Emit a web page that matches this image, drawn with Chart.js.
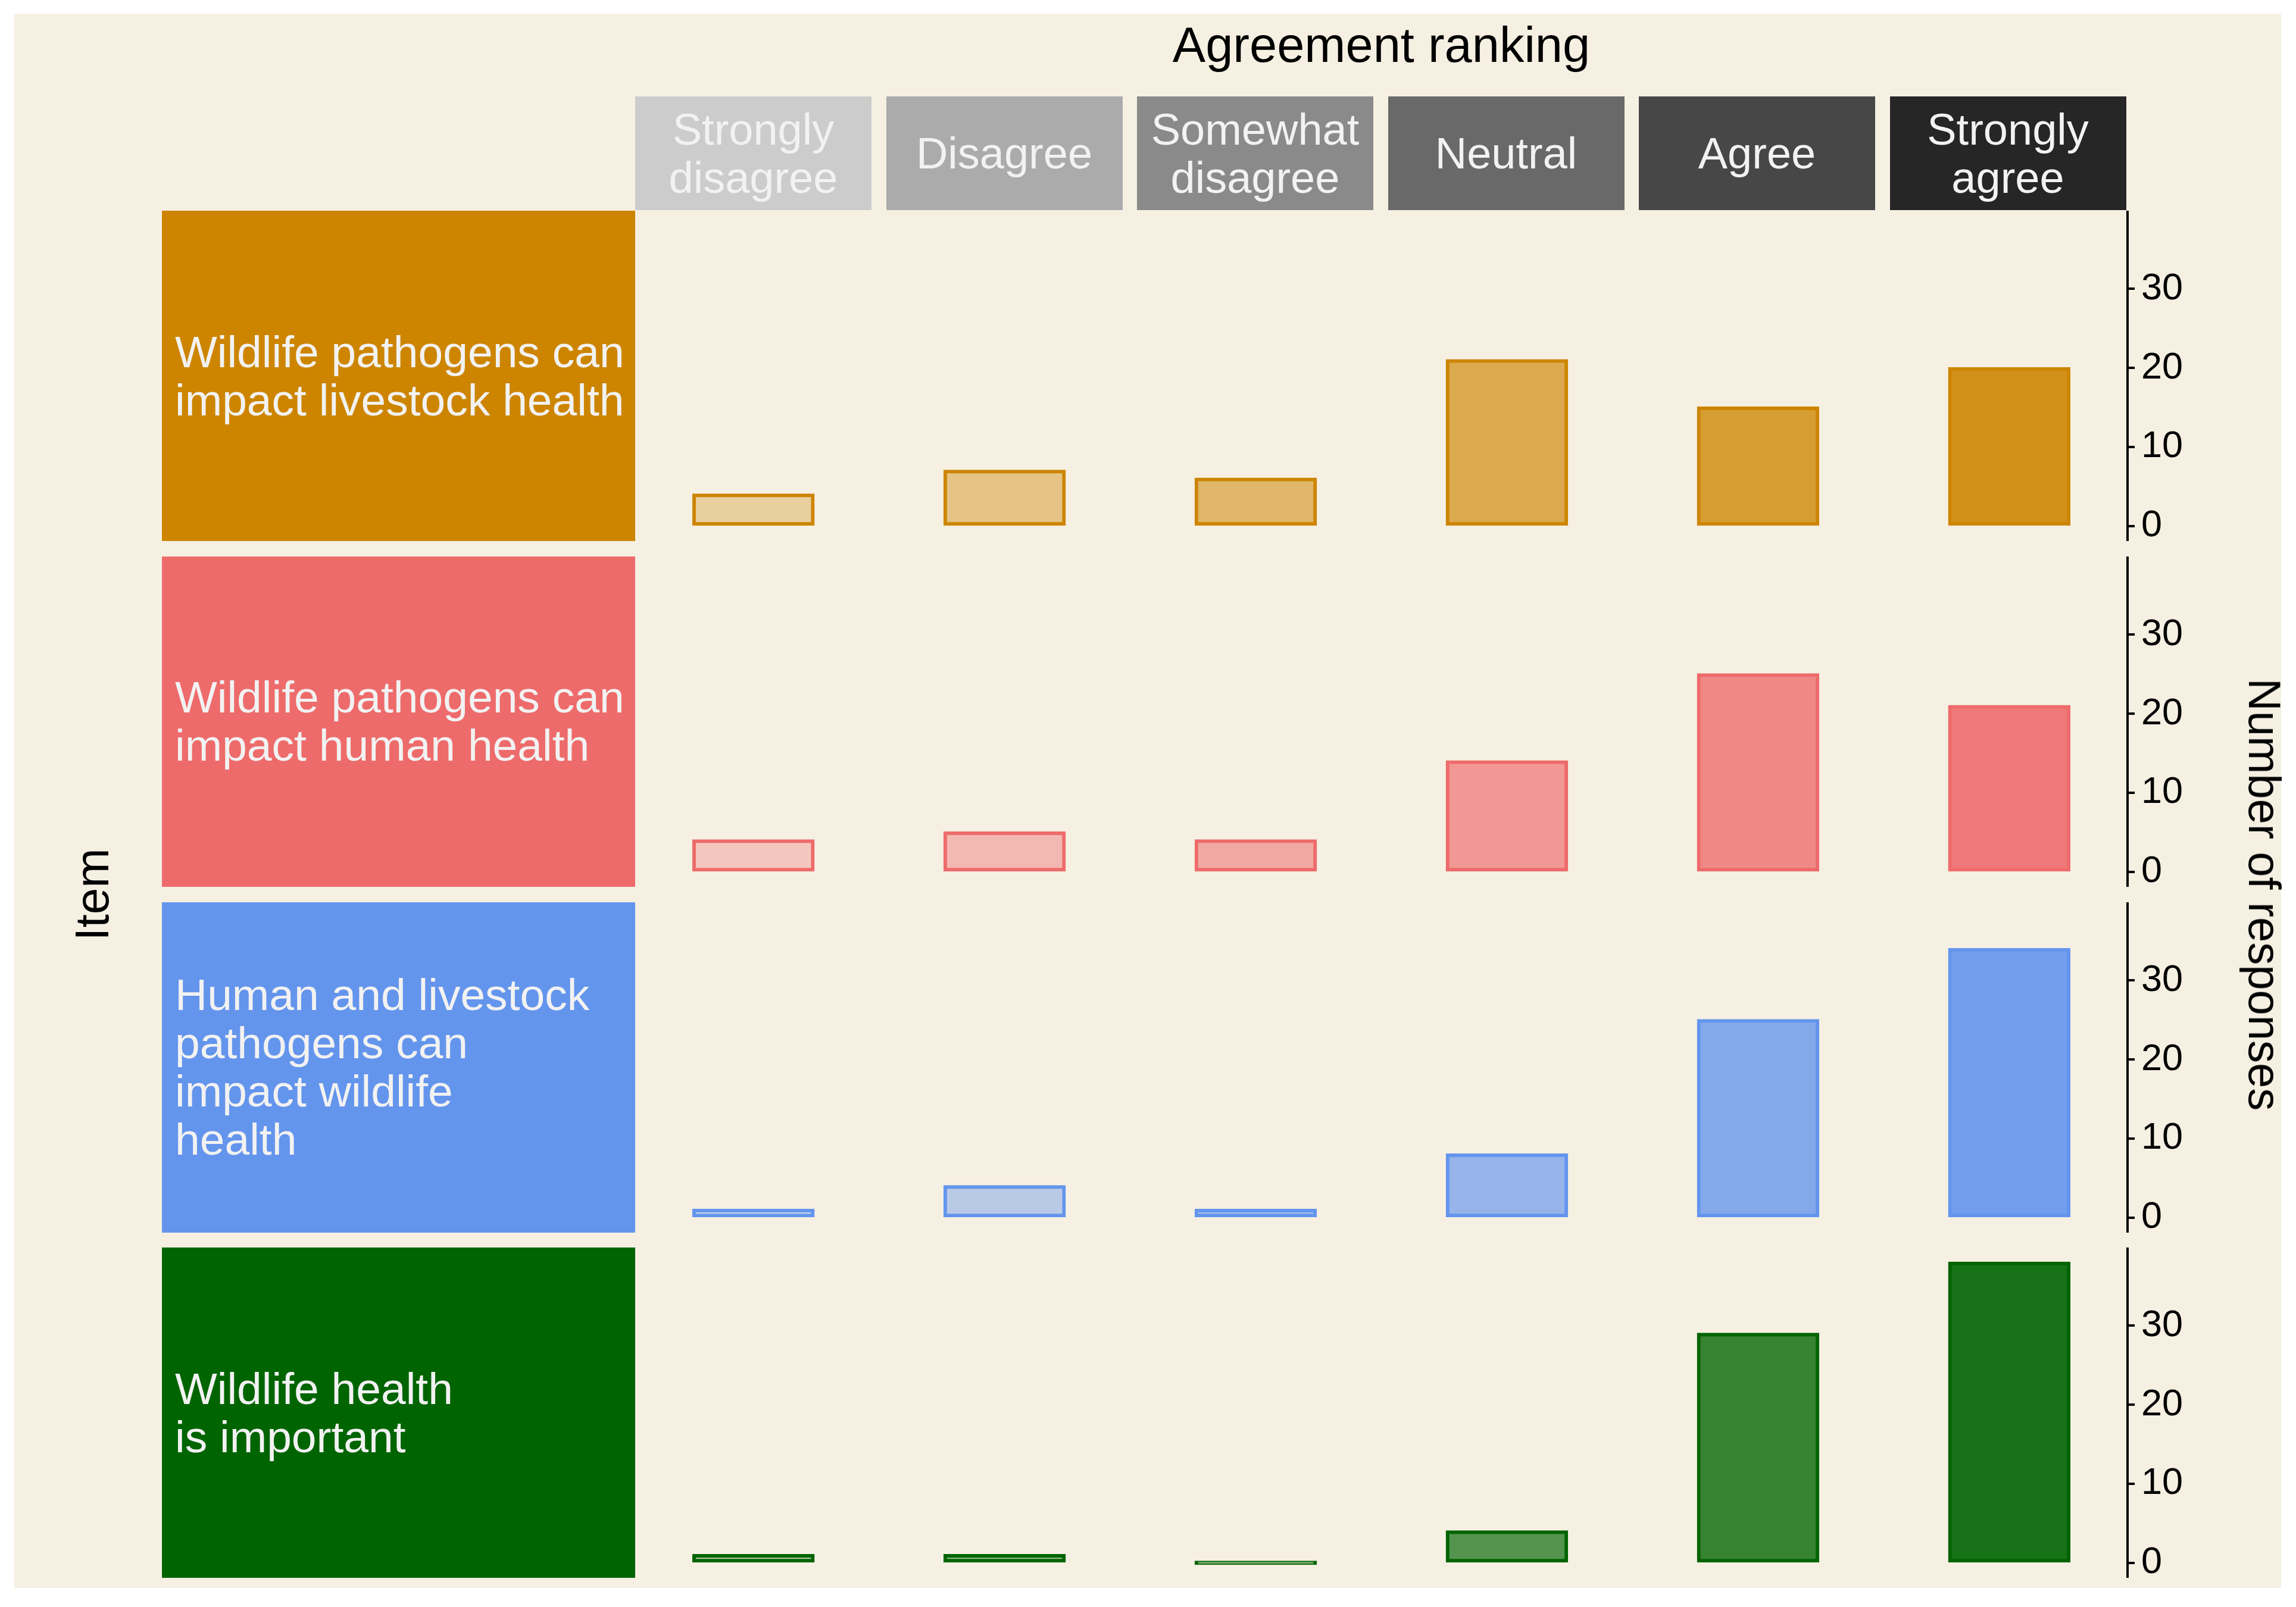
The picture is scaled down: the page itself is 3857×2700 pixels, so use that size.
<!DOCTYPE html>
<html>
<head>
<meta charset="utf-8">
<script src="https://cdn.jsdelivr.net/npm/chart.js@4/dist/chart.umd.min.js"></script>
<style>
  html, body { margin: 0; padding: 0; background: #ffffff; }
  body { width: 3857px; height: 2700px; position: relative; overflow: hidden; font-family: "Liberation Sans", Arial, sans-serif; }
  #bg { position: absolute; left: 24px; top: 23px; width: 3808px; height: 2645px; background: #F6F0E3; }
  .hstrip { position: absolute; display: flex; align-items: center; justify-content: center; text-align: center;
            white-space: pre-line; font-size: 74px; line-height: 81px; color: #F2F2F2; }
  .rstrip { position: absolute; display: flex; align-items: center; justify-content: flex-start; text-align: left;
            white-space: pre-line; font-size: 75px; line-height: 81px; color: #F2F2F2; box-sizing: border-box; padding-left: 22px; }
  .title { position: absolute; font-size: 83px; line-height: 83px; color: #000; white-space: nowrap; }
  canvas { position: absolute; }
</style>
</head>
<body>
<div id="bg"></div>
<div id="root"></div>
<script>
// ---------------- data ----------------
const agreementLevels = ['Strongly\ndisagree', 'Disagree', 'Somewhat\ndisagree', 'Neutral', 'Agree', 'Strongly\nagree'];
const itemLabels = [
  'Wildlife pathogens can\nimpact livestock health',
  'Wildlife pathogens can\nimpact human health',
  'Human and livestock\npathogens can\nimpact wildlife\nhealth',
  'Wildlife health\nis important'
];
const livestockCounts = [4, 7, 6, 21, 15, 20];
const humanCounts     = [4, 5, 4, 14, 25, 21];
const wildlifeCounts  = [1, 4, 1, 8, 25, 34];
const importantCounts = [1, 1, 0, 4, 29, 38];
const yTickValues = [0, 10, 20, 30];
const xTitle = 'Agreement ranking';
const yTitle = 'Number of responses';
const rowTitle = 'Item';

// ---------------- styles ----------------
const itemColors = ['#CD8500', '#EE6B6B', '#6495ED', '#006400'];
const levelAlphas = [0.3, 0.42, 0.54, 0.66, 0.78, 0.9];
const stripGreys = ['#CCCCCC', '#ABABAB', '#8A8A8A', '#696969', '#474747', '#262626'];
const FONT = '"Liberation Sans", Arial, sans-serif';

// layout (pixels)
const panelLeft = 1067, panelRight = 3574;
const colPitch = 421.5, colWidth = 397;
const headerTop = 162, headerH = 191;
const rowTop0 = 354, rowPitch = 580.8, rowH = 555;
const stripLeft = 272, stripW = 795;
const axisW = 220;

const allCounts = [livestockCounts, humanCounts, wildlifeCounts, importantCounts];
const yMaxData = Math.max(...allCounts.flat());
const yMin = -0.05 * yMaxData, yMax = 1.05 * yMaxData;
const halfCol = colWidth / 2 / colPitch;
const xMin = -halfCol, xMax = (agreementLevels.length - 1) + halfCol;

const root = document.getElementById('root');
function el(cls, text, css) {
  const d = document.createElement('div');
  d.className = cls; d.textContent = text;
  Object.assign(d.style, css);
  root.appendChild(d);
  return d;
}

// title
el('title', xTitle, { left: ((panelLeft + panelRight) / 2) + 'px', top: '34px', transform: 'translateX(-50%)' });

// header strips
agreementLevels.forEach((lab, i) => {
  el('hstrip', lab, { left: (panelLeft + i * colPitch) + 'px', top: headerTop + 'px', width: colWidth + 'px', height: headerH + 'px', background: stripGreys[i] });
});

function hexToRgba(hex, a) {
  const n = parseInt(hex.slice(1), 16);
  return `rgba(${(n >> 16) & 255},${(n >> 8) & 255},${n & 255},${a})`;
}

// rows
allCounts.forEach((counts, j) => {
  const top = rowTop0 + j * rowPitch;
  el('rstrip', itemLabels[j], { left: stripLeft + 'px', top: top + 'px', width: stripW + 'px', height: rowH + 'px', background: itemColors[j] });

  const cv = document.createElement('canvas');
  const w = (panelRight - panelLeft) + axisW;
  cv.width = w; cv.height = rowH;
  cv.style.left = panelLeft + 'px'; cv.style.top = top + 'px';
  cv.style.width = w + 'px'; cv.style.height = rowH + 'px';
  root.appendChild(cv);

  new Chart(cv.getContext('2d'), {
    type: 'bar',
    data: {
      datasets: [{
        data: counts.map((v, i) => ({ x: i, y: v })),
        backgroundColor: levelAlphas.map(a => hexToRgba(itemColors[j], a)),
        borderColor: itemColors[j],
        borderWidth: 3,
        borderSkipped: false,
        minBarLength: 4,
        inflateAmount: 1.5,
        barPercentage: 0.48,
        categoryPercentage: 1
      }]
    },
    options: {
      responsive: false,
      maintainAspectRatio: false,
      animation: false,
      devicePixelRatio: 1,
      layout: { padding: 0 },
      plugins: { legend: { display: false }, tooltip: { enabled: false } },
      scales: {
        x: {
          type: 'linear', min: xMin, max: xMax, offset: false, display: false,
          afterBuildTicks: s => { s.ticks = agreementLevels.map((_, i) => ({ value: i })); }
        },
        y: {
          position: 'right', min: yMin, max: yMax,
          afterBuildTicks: s => { s.ticks = yTickValues.map(v => ({ value: v })); },
          afterFit: s => { s.width = axisW; s.paddingTop = 0; s.paddingBottom = 0; },
          grid: { drawOnChartArea: false, drawTicks: true, tickLength: 12, color: '#000', lineWidth: 4 },
          border: { display: true, color: '#000', width: 4 },
          ticks: { color: '#000', font: { family: FONT, size: 63 }, padding: 11 }
        }
      }
    }
  });
});

// axis titles
const midY = rowTop0 + (3 * rowPitch + rowH) / 2;
el('title', rowTitle, { left: '155px', top: midY + 'px', transform: 'translate(-50%,-50%) rotate(-90deg)', fontSize: '80px', lineHeight: '80px' });
el('title', yTitle, { left: '3804px', top: midY + 'px', transform: 'translate(-50%,-50%) rotate(90deg)', fontSize: '76px', lineHeight: '80px' });
</script>
</body>
</html>
